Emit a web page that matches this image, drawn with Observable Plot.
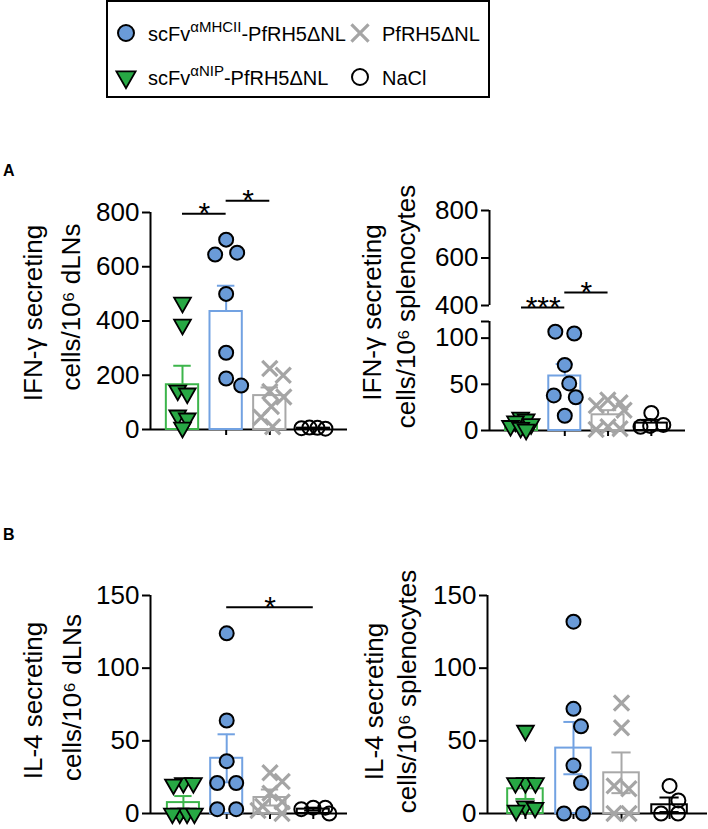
<!DOCTYPE html>
<html>
<head>
<meta charset="utf-8">
<script src="https://cdn.jsdelivr.net/npm/d3@7"></script>
<script src="https://cdn.jsdelivr.net/npm/@observablehq/plot@0.6"></script>
<style>
  html, body { margin: 0; padding: 0; background: #fff; }
  #fig { position: relative; width: 708px; height: 829px; overflow: hidden; font-family: "Liberation Sans", Arial, sans-serif; color: #000; }
  .abs { position: absolute; }
  .tag { font-weight: bold; font-size: 16px; line-height: 1; }
</style>
</head>
<body>
<div id="fig"></div>
<script>
// ---------------- categories / legend text ----------------
const groupKeys   = ["NIP", "MHCII", "RH5", "NaCl"];      // x order in every panel
const legendMain  = ["scFv", "scFv", "PfRH5ΔNL", "NaCl"];
const legendSup   = ["αNIP", "αMHCII", "", ""];
const legendTail  = ["-PfRH5ΔNL", "-PfRH5ΔNL", "", ""];
const legendOrder = [1, 2, 0, 3];                           // reading order in the box

// ---------------- Panel A left: IFN-γ / 10^6 dLNs ----------------
const ifnDlnNIP   = [468, 387, 144, 133, 52, 41, 7];
const ifnDlnMHCII = [700, 652, 645, 500, 283, 188, 162];
const ifnDlnRH5   = [225, 200, 140, 120, 85, 45, 10];
const ifnDlnNaCl  = [5, 7, 3, 6];
const ifnDlnMean  = [165, 435, 125, 5];
const ifnDlnSem   = [70, 95, 30, 1];
const ifnDlnSig   = [[0, 1, 795, "*"], [1, 2, 843, "*"]];
const ifnDlnTicks = [0, 200, 400, 600, 800];

// ---------------- Panel A right: IFN-γ / 10^6 splenocytes ----------------
const ifnSplNIP   = [14, 12, 10, 7, 5, 3, 1];
const ifnSplMHCII = [107, 105, 71, 51, 38, 36, 16];
const ifnSplRH5   = [33, 30, 27, 22, 4, 2, 1];
const ifnSplNaCl  = [19, 6, 5, 4];
const ifnSplMean  = [7, 59, 17, 8];
const ifnSplSem   = [2, 13, 5, 3.5];
const ifnSplSig   = [[0, 1, 365, "***"], [1, 2, 455, "*"]];
const ifnSplTicks = [0, 50, 100, 400, 600, 800];
const ifnSplBreak = [118, 400];                            // broken-axis gap

// ---------------- Panel B left: IL-4 / 10^6 dLNs ----------------
const il4DlnNIP   = [21, 21, 20, 0, 0, 0, 0];
const il4DlnMHCII = [124, 64, 36, 21, 21, 3, 3];
const il4DlnRH5   = [28, 22, 14, 8, 5, 2, 0];
const il4DlnNaCl  = [4, 4, 3, 0];
const il4DlnMean  = [7.5, 38, 11, 3];
const il4DlnSem   = [4.5, 16.5, 5.5, 1];
const il4DlnSig   = [[1, 3, 142, "*"]];
const il4Ticks    = [0, 50, 100, 150];

// ---------------- Panel B right: IL-4 / 10^6 splenocytes ----------------
const il4SplNIP   = [57, 21, 21, 21, 5, 4, 2];
const il4SplMHCII = [132, 72, 60, 33, 21, 0, 0];
const il4SplRH5   = [76, 59, 19, 17, 0, 0];
const il4SplNaCl  = [19, 9, 0, 0];
const il4SplMean  = [17, 45, 28, 6];
const il4SplSem   = [7, 18, 14, 5];
const il4SplSig   = [];

// ---------------- symbols & styles ----------------
const symTriDown = { draw(ctx, size) { const r = Math.sqrt(size / Math.PI);
  ctx.moveTo(-1.2 * r, -0.7 * r); ctx.lineTo(1.2 * r, -0.7 * r); ctx.lineTo(0, 1.4 * r); ctx.closePath(); } };
const symCross = { draw(ctx, size) { const r = Math.sqrt(size / Math.PI) * 0.95;
  ctx.moveTo(-r, -r); ctx.lineTo(r, r); ctx.moveTo(-r, r); ctx.lineTo(r, -r); } };
const symCircle = { draw(ctx, size) { const r = Math.sqrt(size / Math.PI);
  ctx.moveTo(r, 0); ctx.arc(0, 0, r, 0, 2 * Math.PI); } };

const styles = [
  {symbol: symTriDown, fill: "#27a844", stroke: "#000", sw: 1.8, r: 7,   bar: "#3cb54b", spacing: 10, half: 11},
  {symbol: symCircle,  fill: "#6a9bd8", stroke: "#000", sw: 2,   r: 7,   bar: "#72a2e2", spacing: 19, half: 11},
  {symbol: symCross,   fill: "none",    stroke: "#a5a5a5", sw: 3.2, r: 8, bar: "#a8a8a8", spacing: 15, half: 12},
  {symbol: symCircle,  fill: "none",    stroke: "#000", sw: 2,   r: 7,   bar: "#000",    spacing: 17, half: 12}
];
const FONT = '"Liberation Sans", Arial, Helvetica, sans-serif';

const fig = d3.select("#fig");

// ---------------- legend ----------------
const leg = fig.append("svg").attr("class", "abs").style("left", "0px").style("top", "0px")
  .attr("width", 708).attr("height", 100).style("font-family", FONT);
leg.append("rect").attr("x", 107).attr("y", 1).attr("width", 382).attr("height", 96)
  .attr("fill", "none").attr("stroke", "#000").attr("stroke-width", 2);
const legPos = [[126, 33], [360, 33], [126, 77], [360, 77]];
legendOrder.forEach((g, k) => {
  const [cx, cy] = legPos[k], st = styles[g];
  const p = d3.path(); st.symbol.draw(p, Math.PI * (st.r + 1) * (st.r + 1));
  leg.append("path").attr("d", p.toString()).attr("transform", `translate(${cx},${cy})`)
    .attr("fill", st.fill).attr("stroke", st.stroke).attr("stroke-width", st.sw);
  const t = leg.append("text").attr("x", cx + 22).attr("y", cy + 8).attr("font-size", 20);
  t.append("tspan").text(legendMain[g]);
  if (legendSup[g]) {
    t.append("tspan").attr("font-size", 15).attr("dy", -9).text(legendSup[g]);
    t.append("tspan").attr("dy", 9).text(legendTail[g]);
  }
});

// ---------------- panel labels ----------------
fig.append("div").attr("class", "abs tag").style("left", "3px").style("top", "163px").text("A");
fig.append("div").attr("class", "abs tag").style("left", "3px").style("top", "527px").text("B");

// ---------------- beeswarm-like spreading (computed) ----------------
function dodge(ys, s, half) {
  const order = d3.range(ys.length).sort((a, b) => ys[a] - ys[b]);
  const placed = [], out = new Array(ys.length).fill(0);
  for (const i of order) {
    const y = ys[i], cands = [0];
    for (const p of placed) {
      const dy = Math.abs(p.y - y);
      if (dy < s) { const w = Math.sqrt(s * s - dy * dy); cands.push(p.x + w, p.x - w); }
    }
    cands.sort((a, b) => Math.abs(a) - Math.abs(b) || b - a);
    for (const c of cands) {
      if (placed.every(p => (p.x - c) ** 2 + (p.y - y) ** 2 >= s * s - 0.01)) { out[i] = c; placed.push({x: c, y}); break; }
    }
  }
  // centre rows of equal height and keep them inside the column
  const sorted = d3.range(ys.length).sort((a, b) => ys[a] - ys[b]);
  let row = [];
  const flush = () => {
    if (row.length > 1) {
      const m = d3.mean(row, i => out[i]); row.forEach(i => out[i] -= m);
      const ext = d3.max(row, i => Math.abs(out[i]));
      if (ext > half) row.forEach(i => out[i] *= half / ext);
    }
    row = [];
  };
  for (const i of sorted) { if (row.length && Math.abs(ys[i] - ys[row[row.length - 1]]) > 3) flush(); row.push(i); }
  flush();
  return out.map(o => Math.max(-half - 4, Math.min(half + 4, o)));
}

// ---------------- panel builder ----------------
function panel(cfg) {
  const {left, top, width, height, ml, mr, mt, mb, xDomain, yDomain, yRange, ticks, segs,
         groups, mean, sem, sig, twoSided, t1, t2, dx1, dx2, dy1, dy2, hideTick} = cfg;
  const yPx = d3.scaleLinear().domain(yDomain).range(yRange);
  const pxPerX = (width - mr - ml) / (xDomain[1] - xDomain[0]);
  const marks = [];
  // axes lines
  marks.push(Plot.ruleX(segs, {x: () => xDomain[0], y1: d => d[0], y2: d => d[1], strokeWidth: 2}));
  marks.push(Plot.ruleY([0], {x1: () => xDomain[0], x2: () => xDomain[1], strokeWidth: 2}));
  marks.push(Plot.axisY({ticks, tickSize: 8, tickPadding: 3, fontSize: 26, strokeWidth: 2, label: null,
    tickFormat: d => (hideTick && d === hideTick) ? "" : d}));
  marks.push(Plot.axisX({ticks: [0, 1, 2, 3], tickSize: 6, tickFormat: () => "", strokeWidth: 2, label: null}));
  // bars + error bars
  groups.forEach((vals, g) => {
    const st = styles[g];
    marks.push(Plot.rectY([g], {x1: d => d - 0.37, x2: d => d + 0.37, y1: () => 0, y2: () => mean[g],
      fill: "none", stroke: st.bar, strokeWidth: 2}));
    const lo = twoSided ? mean[g] - sem[g] : mean[g], hi = mean[g] + sem[g];
    marks.push(Plot.ruleX([g], {x: d => d, y1: () => lo, y2: () => hi, stroke: st.bar, strokeWidth: 2}));
    const caps = twoSided ? [hi, lo] : [hi];
    marks.push(Plot.ruleY(caps, {y: d => d, x1: () => g - 0.2, x2: () => g + 0.2, stroke: st.bar, strokeWidth: 2}));
  });
  // points
  groups.forEach((vals, g) => {
    const st = styles[g];
    const off = dodge(vals.map(v => yPx(v)), st.spacing, st.half);
    const pts = vals.map((v, i) => ({x: g + off[i] / pxPerX, v}));
    marks.push(Plot.dot(pts, {x: "x", y: "v", symbol: st.symbol, r: st.r, fill: st.fill,
      stroke: st.stroke, strokeWidth: st.sw}));
  });
  // significance
  if (sig.length) {
    marks.push(Plot.ruleY(sig, {x1: d => d[0], x2: d => d[1], y: d => d[2], strokeWidth: 2}));
    marks.push(Plot.text(sig, {x: d => (d[0] + d[1]) / 2, y: d => d[2], text: d => d[3], fontSize: 30,
      lineAnchor: "middle", dy: 0}));
  }
  // y title (two lines)
  marks.push(Plot.text([t1], {text: d => d, frameAnchor: "left", textAnchor: "middle", lineAnchor: "middle",
    rotate: -90, dx: dx1, dy: dy1, fontSize: 26}));
  marks.push(Plot.text([t2], {text: d => d, frameAnchor: "left", textAnchor: "middle", lineAnchor: "middle",
    rotate: -90, dx: dx2, dy: dy2, fontSize: 26}));

  const svg = Plot.plot({
    width, height, marginLeft: ml, marginRight: mr, marginTop: mt, marginBottom: mb,
    x: {type: "linear", domain: xDomain, axis: null},
    y: {type: "linear", domain: yDomain, range: yRange, axis: null},
    style: {fontFamily: FONT, fontSize: "24px", background: "transparent", overflow: "visible", color: "#000"},
    marks
  });
  d3.select(svg).attr("class", "abs").style("left", left + "px").style("top", top + "px");
  fig.node().appendChild(svg);
}

panel({left: 0, top: 165, width: 354, height: 275, ml: 150, mr: 7, mt: 47, mb: 11,
  xDomain: [-0.733, 3.78], yDomain: [0, 800], yRange: [264, 47], ticks: ifnDlnTicks, segs: [[0, 800]],
  groups: [ifnDlnNIP, ifnDlnMHCII, ifnDlnRH5, ifnDlnNaCl], mean: ifnDlnMean, sem: ifnDlnSem, sig: ifnDlnSig,
  twoSided: false, t1: "IFN-γ secreting", t2: "cells/10⁶ dLNs", dx1: -117, dx2: -79, dy1: -8, dy2: -14});

panel({left: 354, top: 165, width: 354, height: 275, ml: 135, mr: 23, mt: 45, mb: 10,
  xDomain: [-0.74, 3.79], yDomain: [0, ifnSplBreak[0], ifnSplBreak[1], 800], yRange: [265, 156, 140, 45],
  ticks: [...ifnSplTicks, ifnSplBreak[0]], hideTick: ifnSplBreak[0], segs: [[0, ifnSplBreak[0]], [ifnSplBreak[1], 800]],
  groups: [ifnSplNIP, ifnSplMHCII, ifnSplRH5, ifnSplNaCl], mean: ifnSplMean, sem: ifnSplSem, sig: ifnSplSig,
  twoSided: false, t1: "IFN-γ secreting", t2: "cells/10⁶ splenocytes", dx1: -117, dx2: -83, dy1: -8, dy2: -14});

panel({left: 0, top: 545, width: 354, height: 280, ml: 150, mr: 7, mt: 50, mb: 12,
  xDomain: [-0.76, 3.79], yDomain: [0, 150], yRange: [268, 50], ticks: il4Ticks, segs: [[0, 150]],
  groups: [il4DlnNIP, il4DlnMHCII, il4DlnRH5, il4DlnNaCl], mean: il4DlnMean, sem: il4DlnSem, sig: il4DlnSig,
  twoSided: true, t1: "IL-4 secreting", t2: "cells/10⁶ dLNs", dx1: -117, dx2: -78, dy1: -4, dy2: -7});

panel({left: 354, top: 545, width: 354, height: 280, ml: 133, mr: 1, mt: 50, mb: 12,
  xDomain: [-0.79, 3.79], yDomain: [0, 150], yRange: [268, 50], ticks: il4Ticks, segs: [[0, 150]],
  groups: [il4SplNIP, il4SplMHCII, il4SplRH5, il4SplNaCl], mean: il4SplMean, sem: il4SplSem, sig: il4SplSig,
  twoSided: true, t1: "IL-4 secreting", t2: "cells/10⁶ splenocytes", dx1: -113, dx2: -80, dy1: -3, dy2: -13});
</script>
</body>
</html>
